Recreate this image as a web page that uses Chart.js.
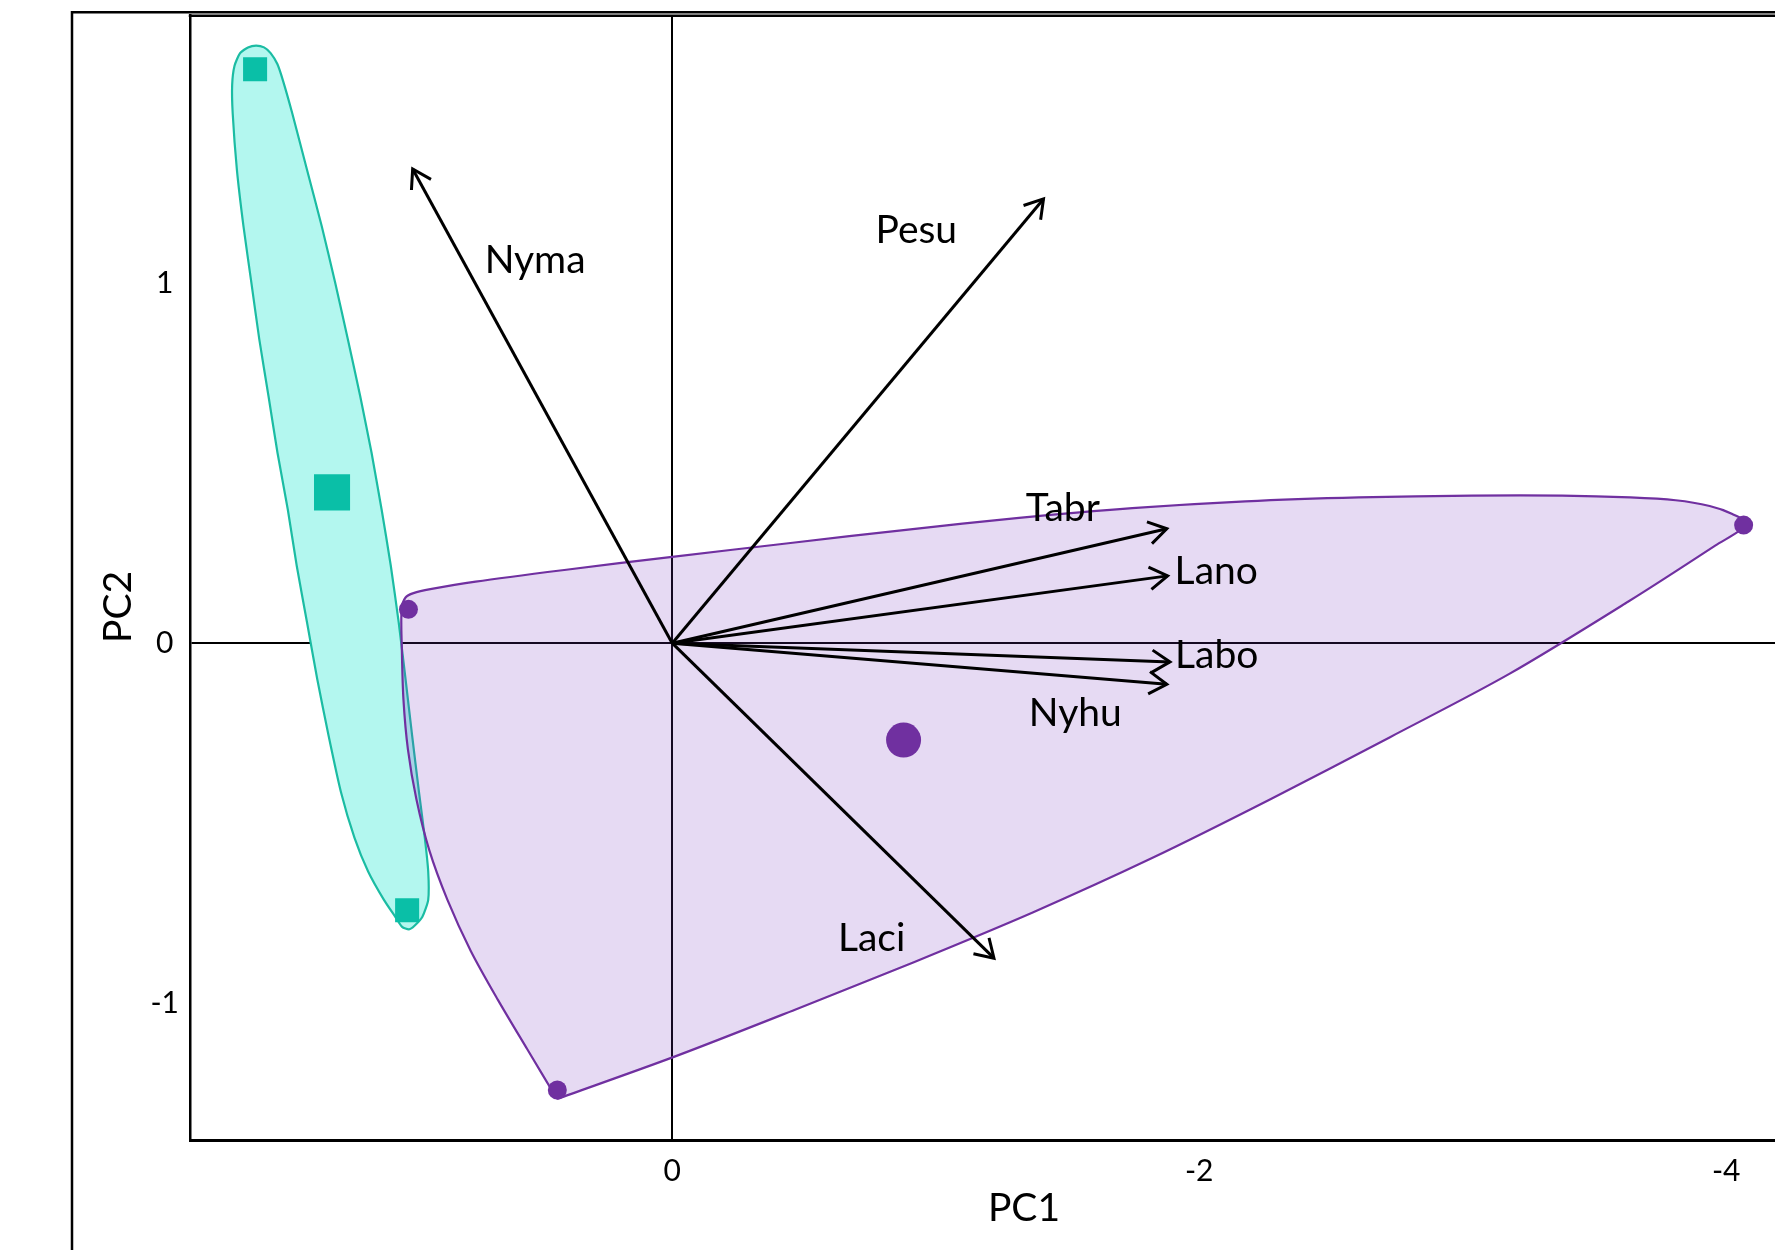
<!DOCTYPE html>
<html>
<head>
<meta charset="utf-8">
<script src="https://cdn.jsdelivr.net/npm/chart.js@4.4.1/dist/chart.umd.min.js"></script>
<style>
  html, body { margin: 0; padding: 0; background: #fff; overflow: hidden; }
  #wrap { width: 1870px; height: 1250px; }
  canvas { display: block; }
</style>
</head>
<body>
<div id="wrap"><canvas id="pca" width="1870" height="1250"></canvas></div>
<script>
// Tick values of the two components
const pc1Ticks = [0, -2, -4];
const pc2Ticks = [1, 0, -1];

// Scores: cyan group
const cyanPC1 = [1.583, 1.006];
const cyanPC2 = [1.594, -0.742];
const cyanMeanPC1 = [1.291];
const cyanMeanPC2 = [0.419];

// Scores: purple group
const purplePC1 = [1.001, 0.436, -4.066];
const purplePC2 = [0.094, -1.241, 0.328];
const purpleMeanPC1 = [-0.878];
const purpleMeanPC2 = [-0.269];

// Envelope outlines of each group
const cyanHullPC1 = [1.141, 1.103, 1.068, 1.038, 1.012, 0.987, 0.961, 0.939, 0.926, 0.926, 0.948, 0.978,
  0.999, 1.025, 1.051, 1.094, 1.154, 1.206, 1.257, 1.304, 1.347, 1.386, 1.425, 1.459, 1.498, 1.532,
  1.567, 1.597, 1.627, 1.652, 1.668, 1.670, 1.661, 1.640, 1.610, 1.579, 1.549, 1.524, 1.498, 1.476,
  1.442, 1.386, 1.330, 1.279, 1.231, 1.184, 1.141];
const cyanHullPC2 = [0.529, 0.372, 0.215, 0.058, -0.100, -0.257, -0.414, -0.540, -0.634, -0.713, -0.760, -0.785,
  -0.795, -0.788, -0.760, -0.713, -0.634, -0.540, -0.414, -0.257, -0.100, 0.058, 0.215, 0.372, 0.529, 0.686,
  0.844, 1.001, 1.158, 1.315, 1.472, 1.551, 1.604, 1.639, 1.655, 1.660, 1.655, 1.639, 1.608, 1.560,
  1.472, 1.315, 1.158, 1.001, 0.844, 0.686, 0.529];

const purpleHullPC1 = [0.437, -0.014, -0.466, -0.917, -1.368, -1.821, -2.272, -2.724, -3.175, -3.627, -3.958,
  -4.078, -4.023, -3.937, -3.808, -3.636, -3.378, -3.035, -2.605, -2.175, -1.746, -1.316, -0.887, -0.457,
  0.000, 0.402, 0.746, 0.918, 0.982, 1.012, 1.027, 1.026, 1.020, 1.003, 0.971, 0.922, 0.853, 0.765,
  0.662, 0.550, 0.437];
const purpleHullPC2 = [-1.266, -1.147, -1.018, -0.886, -0.748, -0.597, -0.433, -0.261, -0.086, 0.115, 0.271,
  0.331, 0.359, 0.381, 0.397, 0.405, 0.410, 0.410, 0.405, 0.394, 0.375, 0.348, 0.315, 0.279,
  0.240, 0.204, 0.171, 0.150, 0.139, 0.127, 0.095, -0.018, -0.156, -0.295, -0.433, -0.575, -0.713, -0.854,
  -0.990, -1.128, -1.266];

// Variable loadings (arrow tips)
const loadingNames = ['Nyma', 'Pesu', 'Tabr', 'Lano', 'Labo', 'Nyhu', 'Laci'];
const loadingPC1 = [0.985, -1.409, -1.877, -1.880, -1.889, -1.877, -1.221];
const loadingPC2 = [1.317, 1.234, 0.318, 0.187, -0.052, -0.114, -0.875];

// ---- styling ----
const FONT = 'Lato';
const CYAN_MARK = '#0abfa7';
const CYAN_LINE = '#1bbca3';
const CYAN_FILL = '#b3f7ef';
const PURPLE = '#7030a0';
const PURPLE_FILL = 'rgba(115, 50, 190, 0.18)';

// label placement relative to each arrow tip, in pixels (left edge, baseline)
const labelOffset = {
  Nyma: [72, 104], Pesu: [-168, 44], Tabr: [-141, -8], Lano: [7, 8],
  Labo: [5, 6], Nyhu: [-138, 42], Laci: [-156, -7]
};

const pts = (xs, ys) => xs.map((x, i) => ({ x, y: ys[i] }));

const datasets = [
  { label: 'cyan', data: pts(cyanPC1, cyanPC2), pointStyle: 'rect', pointRadius: 17,
    backgroundColor: CYAN_MARK, borderWidth: 0, order: 1 },
  { label: 'cyan mean', data: pts(cyanMeanPC1, cyanMeanPC2), pointStyle: 'rect', pointRadius: 25.5,
    backgroundColor: CYAN_MARK, borderWidth: 0, order: 1 },
  { label: 'purple', data: pts(purplePC1, purplePC2), pointStyle: 'circle', pointRadius: 9.5,
    backgroundColor: PURPLE, borderWidth: 0, order: 1 },
  { label: 'purple mean', data: pts(purpleMeanPC1, purpleMeanPC2), pointStyle: 'circle', pointRadius: 17.5,
    backgroundColor: PURPLE, borderWidth: 0, order: 1 },
  ...loadingNames.map((name, i) => ({
    label: name,
    data: [{ x: 0, y: 0 }, { x: loadingPC1[i], y: loadingPC2[i] }],
    showLine: true, borderColor: '#000', borderWidth: 3, pointRadius: 0, fill: false, order: 5
  })),
  { label: 'purple envelope', data: pts(purpleHullPC1, purpleHullPC2), showLine: true, fill: 'shape',
    backgroundColor: PURPLE_FILL, borderColor: PURPLE, borderWidth: 2.2, tension: 0.3, pointRadius: 0,
    borderJoinStyle: 'round', order: 9 },
  { label: 'cyan envelope', data: pts(cyanHullPC1, cyanHullPC2), showLine: true, fill: 'shape',
    backgroundColor: CYAN_FILL, borderColor: CYAN_LINE, borderWidth: 2.2, tension: 0.2, pointRadius: 0,
    borderJoinStyle: 'round', order: 10 }
];

// frame lines around the plotting area
const framePlugin = {
  id: 'frame',
  afterDraw(chart) {
    const { ctx, chartArea: a, width, height } = chart;
    ctx.save();
    ctx.strokeStyle = '#000';
    ctx.lineWidth = 2.5;
    ctx.beginPath();
    ctx.moveTo(a.left - 1.25, a.top);
    ctx.lineTo(width + 5, a.top);
    ctx.stroke();
    ctx.beginPath();
    ctx.moveTo(a.left - 118, height + 5);
    ctx.lineTo(a.left - 118, a.top - 3.4);
    ctx.lineTo(width + 5, a.top - 3.4);
    ctx.stroke();
    ctx.restore();
  }
};

// arrowheads, loading names and the vertical axis title
const annotatePlugin = {
  id: 'annotate',
  afterDatasetsDraw(chart) {
    const { ctx, chartArea: a } = chart;
    const xs = chart.scales.x, ys = chart.scales.y;
    const ox = xs.getPixelForValue(0), oy = ys.getPixelForValue(0);
    const L = 21, A = 32 * Math.PI / 180;
    ctx.save();
    ctx.strokeStyle = '#000';
    ctx.fillStyle = '#000';
    ctx.lineWidth = 3;
    ctx.lineJoin = 'miter';
    ctx.font = '39px ' + FONT;
    ctx.textAlign = 'left';
    ctx.textBaseline = 'alphabetic';
    loadingNames.forEach((name, i) => {
      const tx = xs.getPixelForValue(loadingPC1[i]);
      const ty = ys.getPixelForValue(loadingPC2[i]);
      const ang = Math.atan2(ty - oy, tx - ox);
      ctx.beginPath();
      ctx.moveTo(tx - L * Math.cos(ang - A), ty - L * Math.sin(ang - A));
      ctx.lineTo(tx, ty);
      ctx.lineTo(tx - L * Math.cos(ang + A), ty - L * Math.sin(ang + A));
      ctx.stroke();
      const off = labelOffset[name];
      ctx.fillText(name, tx + off[0], ty + off[1]);
    });
    // PC2 title
    ctx.translate(a.left - 59, (a.top + a.bottom) / 2 + 29);
    ctx.rotate(-Math.PI / 2);
    ctx.textAlign = 'center';
    ctx.fillText('PC2', 0, 0);
    ctx.restore();
  }
};

const zeroGrid = c => (c.tick && c.tick.value === 0) ? '#000' : 'rgba(0,0,0,0)';
const noEdgePadding = s => { s.paddingTop = 0; s.paddingBottom = 0; s.paddingLeft = 0; s.paddingRight = 0; };

new Chart(document.getElementById('pca'), {
  type: 'scatter',
  data: { datasets },
  options: {
    responsive: false,
    animation: false,
    events: [],
    layout: { autoPadding: false, padding: { left: 0, top: 15.7, right: 12, bottom: 0 } },
    plugins: { legend: { display: false }, tooltip: { enabled: false } },
    scales: {
      x: {
        type: 'linear', min: -4.5, max: 1.83, reverse: true, z: 1,
        afterBuildTicks: s => { s.ticks = [...pc1Ticks].sort((p, q) => p - q).map(v => ({ value: v })); },
        afterFit: s => { s.height = 110; noEdgePadding(s); },
        ticks: { font: { family: FONT, size: 30 }, color: '#000', padding: 13.5, maxRotation: 0,
          autoSkip: false, callback: v => String(v) },
        grid: { drawTicks: false, lineWidth: 2, color: zeroGrid },
        border: { display: true, color: '#000', width: 3 },
        title: { display: true, text: 'PC1', color: '#000', font: { family: FONT, size: 39 },
          padding: { top: 0, bottom: 18.6 } }
      },
      y: {
        type: 'linear', min: -1.38, max: 1.743, z: 1,
        afterBuildTicks: s => { s.ticks = [...pc2Ticks].sort((p, q) => p - q).map(v => ({ value: v })); },
        afterFit: s => { s.width = 190; noEdgePadding(s); },
        ticks: { font: { family: FONT, size: 30 }, color: '#000', padding: 11, crossAlign: 'center',
          autoSkip: false, callback: v => String(v) },
        grid: { drawTicks: false, lineWidth: 2, color: zeroGrid },
        border: { display: true, color: '#000', width: 2.5 }
      }
    }
  },
  plugins: [framePlugin, annotatePlugin]
});
</script>
</body>
</html>
